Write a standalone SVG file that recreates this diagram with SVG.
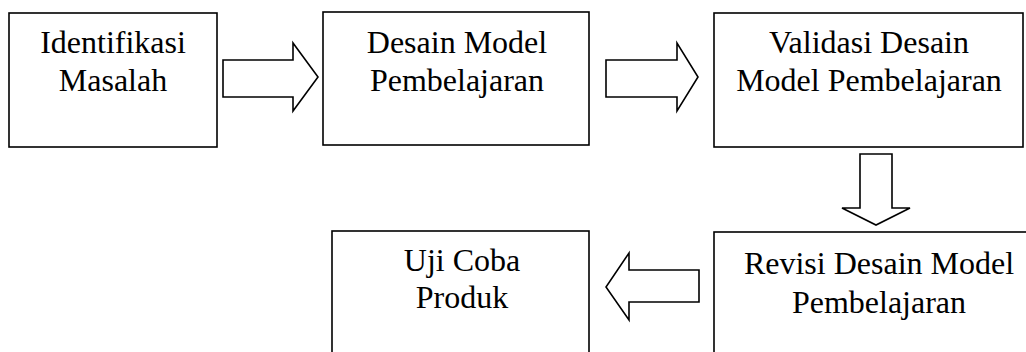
<svg xmlns="http://www.w3.org/2000/svg" width="1026" height="352" viewBox="0 0 1026 352">
<style>
.box{fill:#fff;stroke:#000;stroke-width:1.6}
.arr{fill:#fff;stroke:#000;stroke-width:1.6;stroke-linejoin:miter}
.t{font-family:"Liberation Serif","Times New Roman",serif;font-size:32px;fill:#000;text-anchor:middle}
</style>
<rect width="1026" height="352" fill="#fff"/>
<g id="connectors">
<polygon class="arr" points="223,60 293,60 293,43 318,77 293,111 293,97 223,97"/>
<polygon class="arr" points="606,60 677,60 677,43 698,77 677,111 677,97 606,97"/>
<polygon class="arr" points="860,154 892,154 892,208 910,208 876,225 842,208 860,208"/>
<polygon class="arr" points="699,270 629,270 629,253 606,287 629,320 629,302 699,302"/>
</g>
<g id="node-identifikasi">
<rect class="box" x="9" y="13" width="208" height="134"/>
<text class="t" x="113" y="53">Identifikasi</text>
<text class="t" x="113" y="91">Masalah</text>
</g>
<g id="node-desain">
<rect class="box" x="323" y="12" width="266" height="133"/>
<text class="t" x="457" y="53">Desain Model</text>
<text class="t" x="457" y="91">Pembelajaran</text>
</g>
<g id="node-validasi">
<rect class="box" x="714" y="13" width="309" height="134"/>
<text class="t" x="869" y="53">Validasi Desain</text>
<text class="t" x="869" y="91">Model Pembelajaran</text>
</g>
<g id="node-revisi">
<rect class="box" x="714" y="232" width="360" height="140"/>
<text class="t" x="879" y="274">Revisi Desain Model</text>
<text class="t" x="879" y="313">Pembelajaran</text>
</g>
<g id="node-ujicoba">
<rect class="box" x="332" y="231" width="257" height="140"/>
<text class="t" x="462" y="271">Uji Coba</text>
<text class="t" x="462" y="308">Produk</text>
</g>
</svg>
